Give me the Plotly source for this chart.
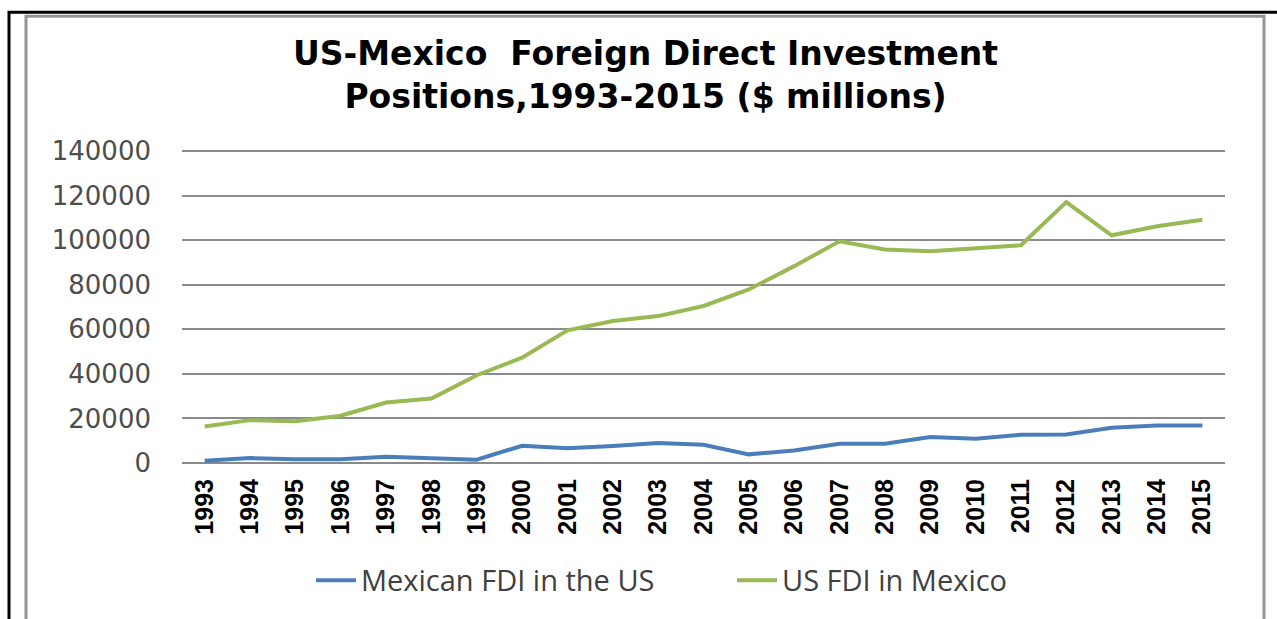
import plotly.graph_objects as go

years = [str(y) for y in range(1993, 2016)]
mexican_fdi_in_us = [1040, 2240, 1640, 1640, 2840, 2090, 1490, 7760, 6570, 7610, 8960,
                     8200, 3880, 5660, 8650, 8650, 11630, 10880, 12670, 12820, 15800, 16840, 16840]
us_fdi_in_mexico = [16400, 19250, 18800, 21200, 27160, 28960, 39400, 47300, 59550, 63730, 65970,
                    70510, 77960, 88400, 99580, 95850, 95100, 96600, 97790, 117170, 102260, 106280, 109260]
y_ticks = [0, 20000, 40000, 60000, 80000, 100000, 120000, 140000]
title_lines = ["US-Mexico  Foreign Direct Investment", "Positions,1993-2015 ($ millions)"]

W, H = 1277, 619
L, R, T, B = 182, 1225, 148.8, 462.7
Y_MAX = 141000

def px(x):
    return (x - L) / (R - L)

def py(y):
    return (B - y) / (B - T)

fig = go.Figure()
fig.add_trace(go.Scatter(x=years, y=mexican_fdi_in_us, mode="lines", name="Mexican FDI in the US",
                         line=dict(color="#4A7EBB", width=4)))
fig.add_trace(go.Scatter(x=years, y=us_fdi_in_mexico, mode="lines", name="US FDI in Mexico",
                         line=dict(color="#98B954", width=4)))

annotations = [
    dict(text="<b>%s<br>%s</b>" % (title_lines[0], title_lines[1]), xref="paper", yref="paper",
         x=px(645), y=py(75), xanchor="center", yanchor="middle", showarrow=False,
         font=dict(family="DejaVu Sans", size=33, color="black")),
]

fig.update_layout(
    width=W, height=H,
    margin=dict(l=L, r=W - R, t=T, b=H - B, autoexpand=False),
    paper_bgcolor="white", plot_bgcolor="white",
    showlegend=True,
    legend=dict(orientation="h", x=px(311), xanchor="left", y=py(580), yanchor="middle",
                font=dict(family="Open Sans", size=29, color="#404040"),
                entrywidth=366, entrywidthmode="pixels",
                itemwidth=40, bgcolor="rgba(0,0,0,0)"),
    xaxis=dict(type="category", range=[-0.5, 22.5], showgrid=False, showline=False, zeroline=False, ticks="",
               tickangle=-90, tickfont=dict(family="Liberation Sans", size=25, color="black", weight="bold"),
               ticklabelstandoff=10),
    yaxis=dict(range=[0, Y_MAX], tickvals=y_ticks, ticktext=[str(v) for v in y_ticks],
               showgrid=True, gridcolor="#8A8A8A", gridwidth=1.5, zeroline=True, zerolinecolor="#8A8A8A",
               zerolinewidth=1.5, showline=False, ticks="",
               tickfont=dict(family="DejaVu Sans", size=26, color="#4D4D4D"),
               ticklabelstandoff=30),
    annotations=annotations,
    shapes=[
        dict(type="rect", xref="paper", yref="paper", x0=px(26), x1=px(1264), y0=py(16), y1=py(700),
             line=dict(color="#959595", width=3), layer="below"),
        dict(type="rect", xref="paper", yref="paper", x0=px(9), x1=px(1300), y0=py(12), y1=py(700),
             line=dict(color="black", width=3), layer="below"),
    ],
)

fig.write_html("out.html", config={"displayModeBar": False},
               post_script="document.body.style.margin='0';")
